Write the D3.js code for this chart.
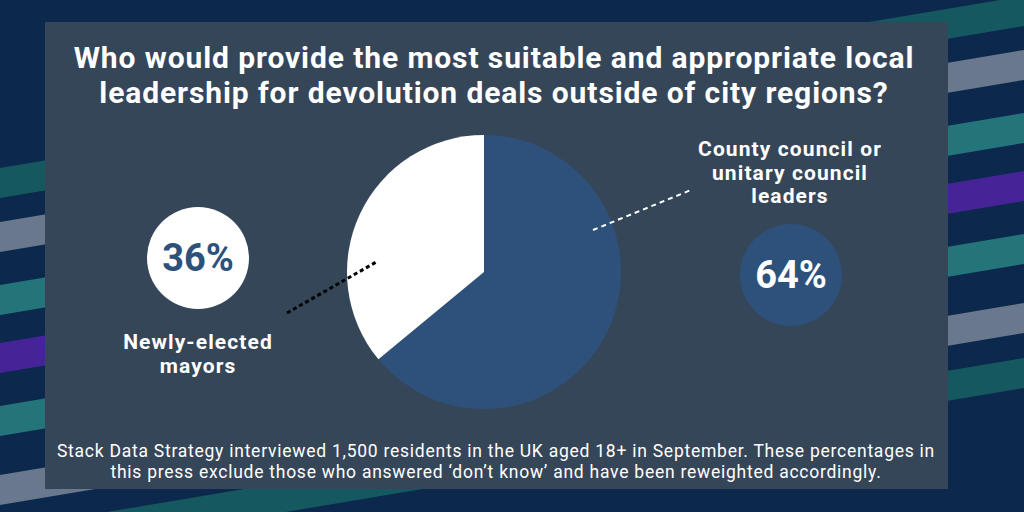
<!doctype html>
<html>
  <head>
    <meta charset="utf-8">
    <title>Local leadership for devolution deals</title>
    <script src="https://cdnjs.cloudflare.com/ajax/libs/d3/7.8.5/d3.min.js"></script>
    <style>
      html, body { margin: 0; padding: 0; background: #0c294d; }
      svg { display: block; font-family: Roboto, "Noto Sans", sans-serif; }
    </style>
  </head>
  <body>
    <div id="chart"></div>
    <script>
      // dados (percentuais, sem "não sei")
      const categories = ['County council or unitary council leaders', 'Newly-elected mayors'];
      const values = [64, 36];
      const sliceColors = ['#2e517b', '#ffffff'];

      const titleLines = [
        'Who would provide the most suitable and appropriate local',
        'leadership for devolution deals outside of city regions?'
      ];
      const noteLines = [
        'Stack Data Strategy interviewed 1,500 residents in the UK aged 18+ in September. These percentages in',
        'this press exclude those who answered \u2018don\u2019t know\u2019 and have been reweighted accordingly.'
      ];

      // faixas diagonais do fundo (y do topo em x=0, cor)
      const stripeTops = [168, 222, 285, 343, 406, 475, 530];
      const stripeColors = ['#165860', '#69788c', '#24757a', '#462396', '#24757a', '#69788c', '#165860'];

      const W = 1024, H = 512;
      const svg = d3.select('#chart').append('svg')
        .attr('width', W)
        .attr('height', H);

      svg.append('rect').attr('width', W).attr('height', H).attr('fill', '#0c294d');

      // faixas: inclinacao ~ -0.168
      const slope = -0.168, sw = 30;
      svg.selectAll('polygon.stripe')
        .data(stripeTops)
        .join('polygon')
        .attr('class', 'stripe')
        .attr('points', d => [[0, d], [W, d + slope * W], [W, d + slope * W + sw], [0, d + sw]].join(' '))
        .attr('fill', (d, i) => stripeColors[i]);

      // painel
      svg.append('rect')
        .attr('x', 45).attr('y', 22)
        .attr('width', 903).attr('height', 467)
        .attr('fill', '#364659');

      // titulo
      svg.append('text')
        .attr('text-anchor', 'middle')
        .attr('fill', '#fff')
        .style('font-weight', 700)
        .style('font-size', '30px')
        .style('letter-spacing', '0.9px')
        .selectAll('tspan')
        .data(titleLines)
        .join('tspan')
        .attr('x', 494)
        .attr('y', (d, i) => 68 + i * 34.5)
        .text(d => d);

      // pizza
      const cx = 484, cy = 272, r = 137;
      const pie = d3.pie().sort(null).value(d => d);
      const arc = d3.arc().innerRadius(0).outerRadius(r);
      svg.append('g')
        .attr('transform', `translate(${cx},${cy})`)
        .selectAll('path')
        .data(pie(values))
        .join('path')
        .attr('d', arc)
        .attr('fill', (d, i) => sliceColors[i]);

      // linhas tracejadas
      svg.append('line')
        .attr('x1', 593).attr('y1', 230).attr('x2', 691).attr('y2', 190)
        .attr('stroke', '#fff').attr('stroke-width', 2)
        .attr('stroke-dasharray', '5,4');
      svg.append('line')
        .attr('x1', 287).attr('y1', 313).attr('x2', 378).attr('y2', 261)
        .attr('stroke', '#000').attr('stroke-width', 3)
        .attr('stroke-dasharray', '4,3');

      // bolhas com os percentuais
      const bubbles = [
        { x: 791, y: 275, fill: sliceColors[0], color: '#fff', v: values[0] },
        { x: 198, y: 258, fill: sliceColors[1], color: sliceColors[0], v: values[1] }
      ];
      svg.selectAll('circle.bubble')
        .data(bubbles)
        .join('circle')
        .attr('class', 'bubble')
        .attr('cx', d => d.x).attr('cy', d => d.y).attr('r', 51)
        .attr('fill', d => d.fill);
      svg.selectAll('text.pct')
        .data(bubbles)
        .join('text')
        .attr('class', 'pct')
        .attr('x', d => d.x)
        .attr('y', d => d.y + 13)
        .attr('text-anchor', 'middle')
        .attr('fill', d => d.color)
        .style('font-weight', 700)
        .style('font-size', '38px')
        .text(d => d.v + '%');

      // rotulos das categorias
      const labelLines = [
        ['County council or', 'unitary council', 'leaders'],
        ['Newly-elected', 'mayors']
      ];
      const labelPos = [{ x: 790, y: 156 }, { x: 198, y: 349 }];
      labelLines.forEach((lines, k) => {
        svg.append('text')
          .attr('text-anchor', 'middle')
          .attr('fill', '#fff')
          .style('font-weight', 700)
          .style('font-size', '21px')
          .style('letter-spacing', '1.1px')
          .selectAll('tspan')
          .data(lines)
          .join('tspan')
          .attr('x', labelPos[k].x)
          .attr('y', (d, i) => labelPos[k].y + i * 23.5)
          .text(d => d);
      });

      // nota de rodape
      svg.append('text')
        .attr('text-anchor', 'middle')
        .attr('fill', '#fff')
        .style('font-size', '17.5px')
        .style('letter-spacing', '0.75px')
        .selectAll('tspan')
        .data(noteLines)
        .join('tspan')
        .attr('x', 496)
        .attr('y', (d, i) => 457 + i * 20.5)
        .text(d => d);
    </script>
  </body>
</html>
